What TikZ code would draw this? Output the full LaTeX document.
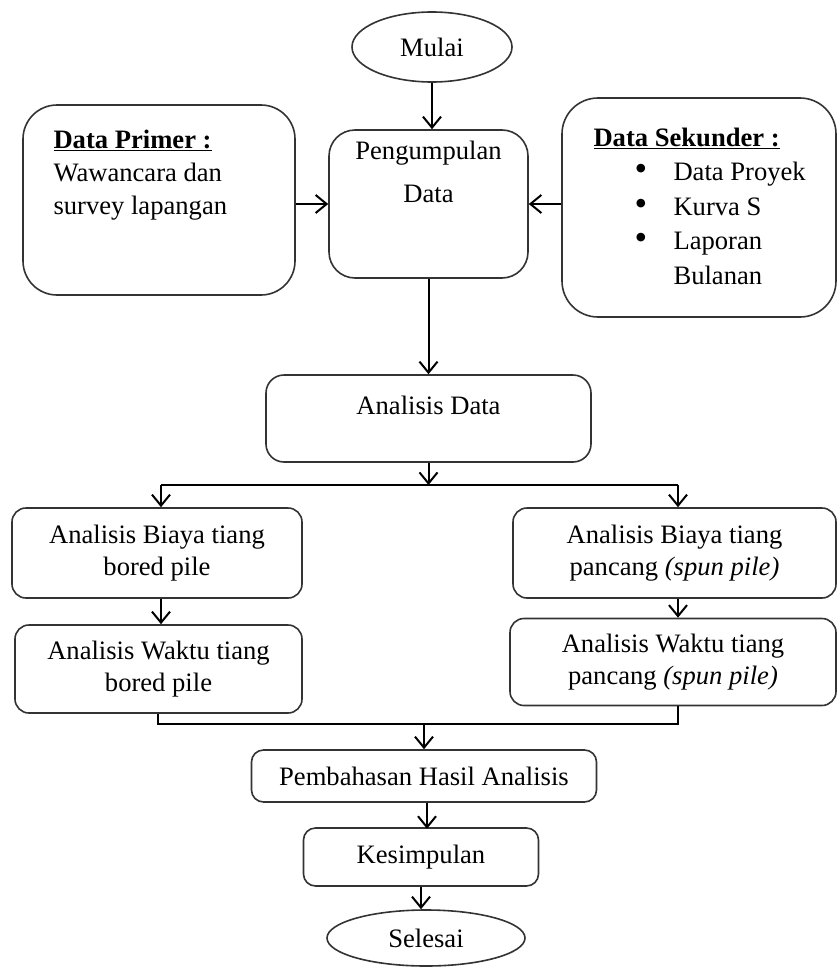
\documentclass[tikz,border=0pt]{standalone}
\usepackage{fontspec}
\setmainfont{Liberation Serif}
\usetikzlibrary{arrows.meta,shapes.geometric}
\newcommand{\bigdot}{\makebox[39pt][l]{\fontsize{36}{0}\selectfont\textbullet}}
\begin{document}
\begin{tikzpicture}
    [
    x=1pt,y=-1pt,
    every node/.style={font=\fontsize{26.6}{32}\selectfont},
    box/.style={draw=black!80,line width=1.6pt,rounded corners=#1,inner sep=0pt,align=center},
    box/.default=14pt,
    term/.style={ellipse,draw=black!80,line width=1.6pt,inner sep=0pt},
    arr/.style={-{Straight Barb[length=11pt,width=18pt,line width=2pt]},line width=2pt},
    link/.style={line width=2pt},
    ]
    \useasboundingbox (0,0) rectangle (838,969);
    % top part
    \node (mulai) at (432,47) [term,minimum width=160pt,minimum height=70pt] {Mulai};
    \node (kumpul) at (428.5,204) [box=26pt,minimum width=199pt,minimum height=148pt] {};
    \node (kumpultxt) at (428.5,172) [align=center,font=\fontsize{26.6}{43}\selectfont] {Pengumpulan\\Data};
    \node (primer) at (159,200) [box=34pt,minimum width=272pt,minimum height=190pt] {};
    \node (primertxt) at (50,175) [anchor=west,align=left,font=\fontsize{26.6}{33}\selectfont]
      {\underline{\textbf{Data Primer :}}\\Wawancara dan\\survey lapangan};
    \node (sekunder) at (699,207.5) [box=36pt,minimum width=274pt,minimum height=219pt] {};
    \node (sekundertxt) at (590,206) [anchor=west,align=left,font=\fontsize{26.6}{34.5}\selectfont]
      {\underline{\textbf{Data Sekunder :}}\\
       \hspace*{41pt}\bigdot Data Proyek\\
       \hspace*{41pt}\bigdot Kurva S\\
       \hspace*{41pt}\bigdot Laporan\\
       \hspace*{80pt}Bulanan};
    \node (analisis) at (428.5,418.5) [box=18pt,minimum width=325pt,minimum height=87pt] {};
    \node (analisistxt) at (428.5,405) {Analisis Data};
    % two branches
    \node (biayaL) at (157,553) [box,minimum width=290pt,minimum height=90pt] {Analisis Biaya tiang\\bored pile};
    \node (waktuL) at (158.5,669) [box,minimum width=287pt,minimum height=88pt] {Analisis Waktu tiang\\bored pile};
    \node (biayaR) at (674.5,553) [box,minimum width=323pt,minimum height=90pt] {Analisis Biaya tiang\\pancang \textit{(spun pile)}};
    \node (waktuR) at (673,662) [box,minimum width=326pt,minimum height=87pt] {Analisis Waktu tiang\\pancang \textit{(spun pile)}};
    % bottom part
    \node (bahas) at (424,776) [box=12pt,minimum width=345pt,minimum height=52pt] {Pembahasan Hasil Analisis};
    \node (simpul) at (421,857) [box=12pt,minimum width=235pt,minimum height=58pt] {Kesimpulan};
    \node (selesai) at (426,938) [term,minimum width=198pt,minimum height=56pt] {Selesai};
    \coordinate (splitL) at (161,485);
    \coordinate (splitR) at (678,485);
    \coordinate (joinL) at (158,724);
    \coordinate (joinR) at (678,724);
    \coordinate (join) at (424,724);
    % connectors
    \draw [arr] (mulai.south) to (mulai.south |- kumpul.north);
    \draw [arr] (primer.east |- kumpul) to (kumpul.west);
    \draw [arr] (sekunder.west |- kumpul) to (kumpul.east);
    \draw [arr] (kumpul.south) to (kumpul.south |- analisis.north);
    \draw [arr] (analisis.south) to (analisis.south |- splitL);
    \draw [link] (splitL) to (splitR);
    \draw [arr] (splitL) to (splitL |- biayaL.north);
    \draw [arr] (splitR) to (splitR |- biayaR.north);
    \draw [arr] (biayaL.south -| splitL) to (splitL |- waktuL.north);
    \draw [arr] (biayaR.south -| splitR) to (splitR |- waktuR.north);
    \draw [link] (joinL |- waktuL.south) -- (joinL) -- (joinR) -- (joinR |- waktuR.south);
    \draw [arr] (join) to (join |- bahas.north);
    \draw [arr] (bahas.south -| simpul) ++(6,0) to ++(0,26);
    \draw [arr] (simpul.south) to (simpul.south |- selesai.north);
  \end{tikzpicture}
\end{document}
